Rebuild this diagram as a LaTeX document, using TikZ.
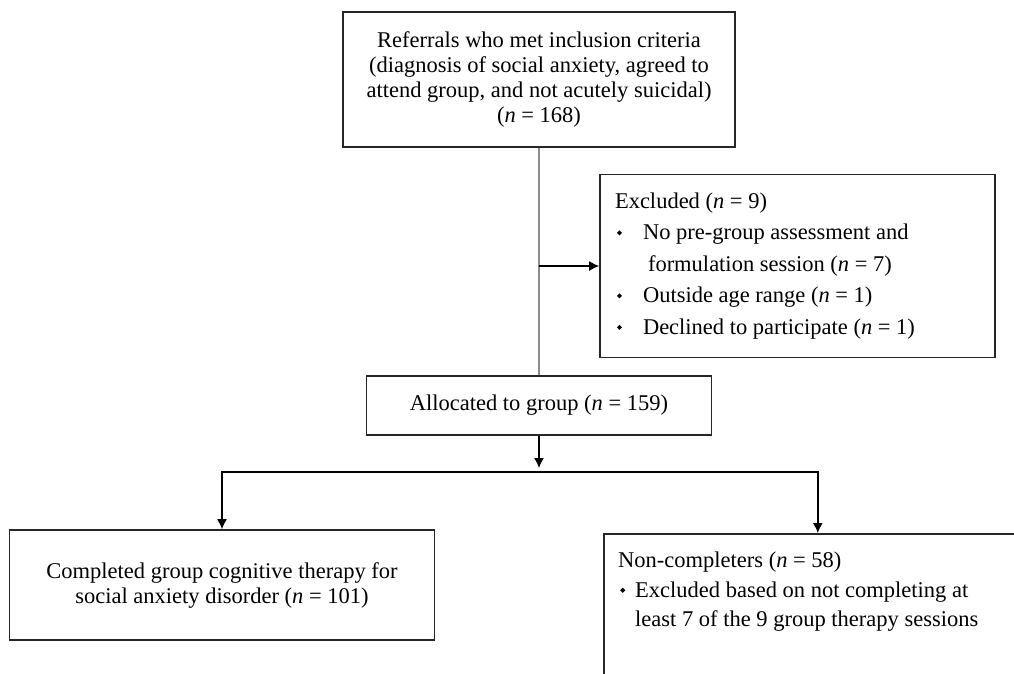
\documentclass[tikz,border=0pt]{standalone}
\usepackage{graphicx}
\usepackage{fontspec}
\setmainfont{Liberation Serif}
\usetikzlibrary{arrows.meta}

\newcommand{\bul}[1][28pt]{\makebox[#1][l]{\hspace{2pt}\raisebox{4.5pt}{\rotatebox{45}{\rule{3.6pt}{3.6pt}}}}}

\begin{document}
\begin{tikzpicture}[x=1pt,y=-1pt]
  \useasboundingbox (0,0) rectangle (1014,673);
  \clip (0,0) rectangle (1014,673);
  \tikzstyle{BoxStyle}=[draw=black!85,line width=1.6pt,inner sep=0pt,font=\fontsize{22.5}{25}\selectfont]
  \tikzstyle{EdgeStyle}=[line width=1.4pt,-{Latex[length=10pt,width=10pt]}]
  \node[BoxStyle,minimum width=392pt,minimum height=135pt,align=center] (ref) at (539,79.5)
    {Referrals who met inclusion criteria\\(diagnosis of social anxiety, agreed to\\attend group, and not acutely suicidal)\\(\textit{n} = 168)};
  \node[BoxStyle,minimum width=395pt,minimum height=183pt,text width=365pt,align=flush left,
        font=\fontsize{22.5}{31.5}\selectfont] (excl) at (797.5,266)
    {Excluded (\textit{n} = 9)\\
     \bul No pre-group assessment and\\
     \hspace{33pt}formulation session (\textit{n} = 7)\\
     \bul Outside age range (\textit{n} = 1)\\
     \bul Declined to participate (\textit{n} = 1)};
  \node[BoxStyle,minimum width=345pt,minimum height=59pt] (alloc) at (539,405.5)
    {Allocated to group (\textit{n} = 159)};
  \node[BoxStyle,minimum width=425pt,minimum height=110pt,align=center] (done) at (222,585)
    {Completed group cognitive therapy for\\social anxiety disorder (\textit{n} = 101)};
  \node[BoxStyle,minimum width=428pt,minimum height=170pt,anchor=north west] (noncomp) at (603,533) {};
  \node[anchor=north west,inner sep=0pt,align=flush left,font=\fontsize{22.5}{29.5}\selectfont] (noncomptext) at (618,552)
    {Non-completers (\textit{n} = 58)\\
     \bul[17pt]Excluded based on not completing at\\
     \hspace{17pt}least 7 of the 9 group therapy sessions};
  % connectors
  \coordinate (split) at (539,472);
  \draw[line width=1.4pt,draw=black!45] (ref.south) -- (alloc.north);
  \draw[EdgeStyle] (ref.south |- excl.west) -- (excl.west);
  \draw[EdgeStyle,shorten >=4pt] (alloc.south) -- (split);
  \draw[EdgeStyle] (split) -| (done.north);
  \draw[EdgeStyle] (split) -| (noncomp.north);
\end{tikzpicture}
\end{document}
